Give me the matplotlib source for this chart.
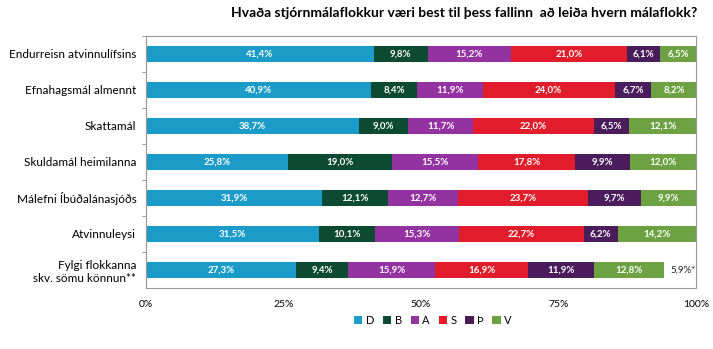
import matplotlib.pyplot as plt
from matplotlib.ticker import FixedLocator

plt.rcParams['font.family'] = ['Lato', 'DejaVu Sans']

categories = ['Endurreisn atvinnulífsins', 'Efnahagsmál almennt', 'Skattamál',
              'Skuldamál heimilanna', 'Málefni Íbúðalánasjóðs', 'Atvinnuleysi',
              'Fylgi flokkanna\nskv. sömu könnun**']
parties = ['D', 'B', 'A', 'S', 'Þ', 'V']
colors = ['#1b9bc8', '#0d4a33', '#9432a2', '#e21d2b', '#4b1c5c', '#6da243']

D = [41.4, 40.9, 38.7, 25.8, 31.9, 31.5, 27.3]
B = [9.8, 8.4, 9.0, 19.0, 12.1, 10.1, 9.4]
A = [15.2, 11.9, 11.7, 15.5, 12.7, 15.3, 15.9]
S = [21.0, 24.0, 22.0, 17.8, 23.7, 22.7, 16.9]
TH = [6.1, 6.7, 6.5, 9.9, 9.7, 6.2, 11.9]
V = [6.5, 8.2, 12.1, 12.0, 9.9, 14.2, 12.8]
other_label = '5,9%*'

series = [D, B, A, S, TH, V]

fig = plt.figure(figsize=(7.13, 3.49), dpi=100)
ax = fig.add_axes([0.205, 0.175, 0.771, 0.722])

ypos = list(range(len(categories)))
left = [0.0] * len(categories)
for name, vals, col in zip(parties, series, colors):
    ax.barh(ypos, vals, left=left, height=0.46, color=col, label=name)
    for y, l, v in zip(ypos, left, vals):
        ax.text(l + v / 2, y, f'{v:.1f}%'.replace('.', ','), ha='center', va='center',
                color='white', fontsize=7, fontweight='bold')
    left = [a + b for a, b in zip(left, vals)]

ax.text(left[-1] + 1.2, ypos[-1], other_label, ha='left', va='center', fontsize=7,
        color='#222222')

ax.set_xlim(0, 100)
ax.set_ylim(len(categories) - 0.5, -0.5)
ax.set_xticks([0, 25, 50, 75, 100])
ax.set_xticklabels(['0%', '25%', '50%', '75%', '100%'], fontsize=7.5)
ax.set_yticks(ypos)
ax.set_yticklabels(categories, fontsize=8.5)
ax.yaxis.set_minor_locator(FixedLocator([i + 0.5 for i in range(len(categories) - 1)] + [-0.5]))
ax.tick_params(axis='y', which='major', length=0, pad=7)
ax.tick_params(axis='y', which='minor', length=3, color='#888888')
ax.tick_params(axis='x', length=0, pad=9)
for s in ax.spines.values():
    s.set_color('#999999')

fig.text(0.651, 0.962, 'Hvaða stjórnmálaflokkur væri best til þess fallinn  að leiða hvern málaflokk?',
         ha='center', va='center', fontsize=10, fontweight='bold')

fig.legend(loc='center', bbox_to_anchor=(0.607, 0.083), ncol=6, frameon=False, fontsize=8,
           handlelength=0.75, handleheight=0.75, handletextpad=0.3, columnspacing=0.8)

fig.savefig('out.png', dpi=100)
